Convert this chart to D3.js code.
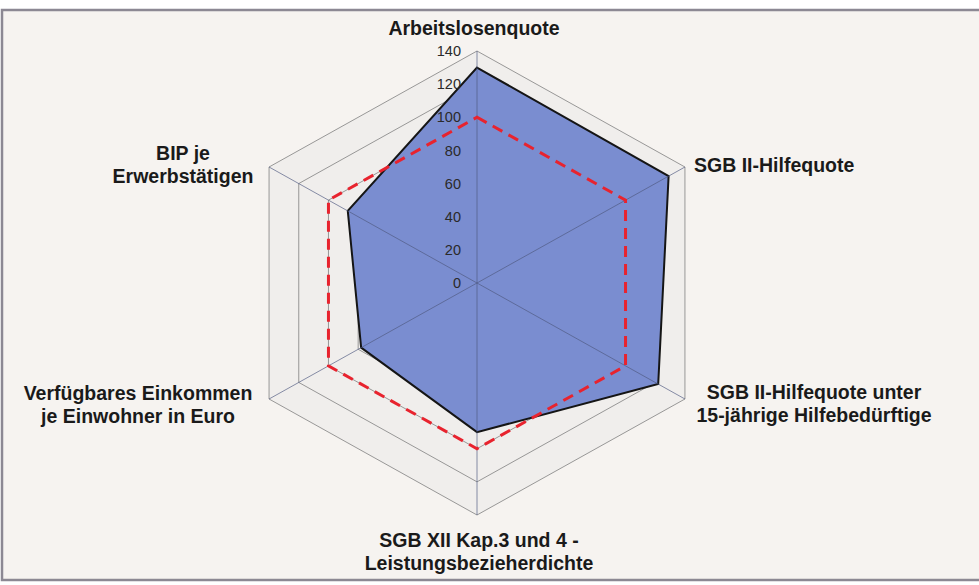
<!DOCTYPE html>
<html>
<head>
<meta charset="utf-8">
<script src="https://cdn.jsdelivr.net/npm/d3@7"></script>
<style>
  body { margin: 0; background: #ffffff; }
  svg text { font-family: "Liberation Sans", Arial, sans-serif; }
</style>
</head>
<body>
<div id="chart-area"></div>
<script>
// data
const categories = [
    ["Arbeitslosenquote"],
    ["SGB II-Hilfequote"],
    ["SGB II-Hilfequote unter", "15-jährige Hilfebedürftige"],
    ["SGB XII Kap.3 und 4 -", "Leistungsbezieherdichte"],
    ["Verfügbares Einkommen", "je Einwohner in Euro"],
    ["BIP je", "Erwerbstätigen"]
];
const regionValues = [130, 129, 122, 90, 78, 87];
const referenceValues = [100, 100, 100, 100, 100, 100];
const tickValues = [0, 20, 40, 60, 80, 100, 120, 140];

const renderChart = () => {
    const w = 979;
    const h = 585;
    const cx = 477;
    const cy = 283;
    const stretchX = 1.035;

    const rScale = d3.scaleLinear()
                     .domain([0, 140])
                     .range([0, 232]);

    const angle = (i) => i * Math.PI * 2 / categories.length;
    const px = (i, v) => cx + Math.sin(angle(i)) * rScale(v) * stretchX;
    const py = (i, v) => cy - Math.cos(angle(i)) * rScale(v);

    const svg = d3.select("#chart-area")
        .append("svg")
        .attr("width", w)
        .attr("height", h);

    // frame
    svg.append("rect")
        .attr("x", 2)
        .attr("y", 10)
        .attr("width", w + 10)
        .attr("height", 570)
        .style("fill", "#f6f3f0")
        .style("stroke", "#8c8893")
        .style("stroke-width", 2.5);

    const ringPath = (v) => {
        const pts = categories.map((c, i) => [px(i, v), py(i, v)]);
        return d3.line()(pts) + "Z";
    };

    // grid rings
    svg.append("path")
        .attr("d", ringPath(140))
        .style("fill", "#f0eeec");

    svg.selectAll(".ring")
        .data(tickValues.slice(1))
        .enter()
        .append("path")
        .attr("class", "ring")
        .attr("d", (d) => ringPath(d))
        .style("fill", "none")
        .style("stroke", "#808080")
        .style("stroke-width", 0.8);

    // filled series
    const seriesLine = (vals) => d3.line()(vals.map((v, i) => [px(i, v), py(i, v)])) + "Z";

    svg.append("path")
        .attr("d", seriesLine(regionValues))
        .style("fill", "#7a8dd0")
        .style("stroke", "#151515")
        .style("stroke-width", 2);

    // spokes
    svg.selectAll(".spoke")
        .data(categories)
        .enter()
        .append("line")
        .attr("class", "spoke")
        .attr("x1", cx)
        .attr("y1", cy)
        .attr("x2", (d, i) => px(i, 140))
        .attr("y2", (d, i) => py(i, 140))
        .style("stroke", "#4f5a80")
        .style("stroke-opacity", 0.75)
        .style("stroke-width", 0.9);

    // reference series
    svg.append("path")
        .attr("d", seriesLine(referenceValues))
        .style("fill", "none")
        .style("stroke", "#e8232e")
        .style("stroke-width", 3)
        .style("stroke-dasharray", "11,7");

    // tick labels
    svg.selectAll(".tick-label")
        .data(tickValues)
        .enter()
        .append("text")
        .attr("class", "tick-label")
        .attr("x", cx - 16)
        .attr("y", (d) => cy - rScale(d))
        .attr("dy", "0.35em")
        .attr("text-anchor", "end")
        .style("font-size", "14.5px")
        .style("fill", "#2a2a2a")
        .text((d) => d);

    // category labels
    const labelPos = [
        { x: 474, y: 28, anchor: "middle" },
        { x: 694, y: 165, anchor: "start" },
        { x: 814, y: 392, anchor: "middle" },
        { x: 479, y: 540, anchor: "middle" },
        { x: 138, y: 393, anchor: "middle" },
        { x: 183, y: 153, anchor: "middle" }
    ];

    categories.forEach((lines, i) => {
        const t = svg.append("text")
            .attr("x", labelPos[i].x)
            .attr("y", labelPos[i].y)
            .attr("text-anchor", labelPos[i].anchor)
            .style("font-size", "19.5px")
            .style("font-weight", "bold")
            .style("fill", "#1a1a1a");
        lines.forEach((line, j) => {
            t.append("tspan")
                .attr("x", labelPos[i].x)
                .attr("y", labelPos[i].y + j * 23)
                .attr("dy", "0.35em")
                .text(line);
        });
    });
};

renderChart();
</script>
</body>
</html>
